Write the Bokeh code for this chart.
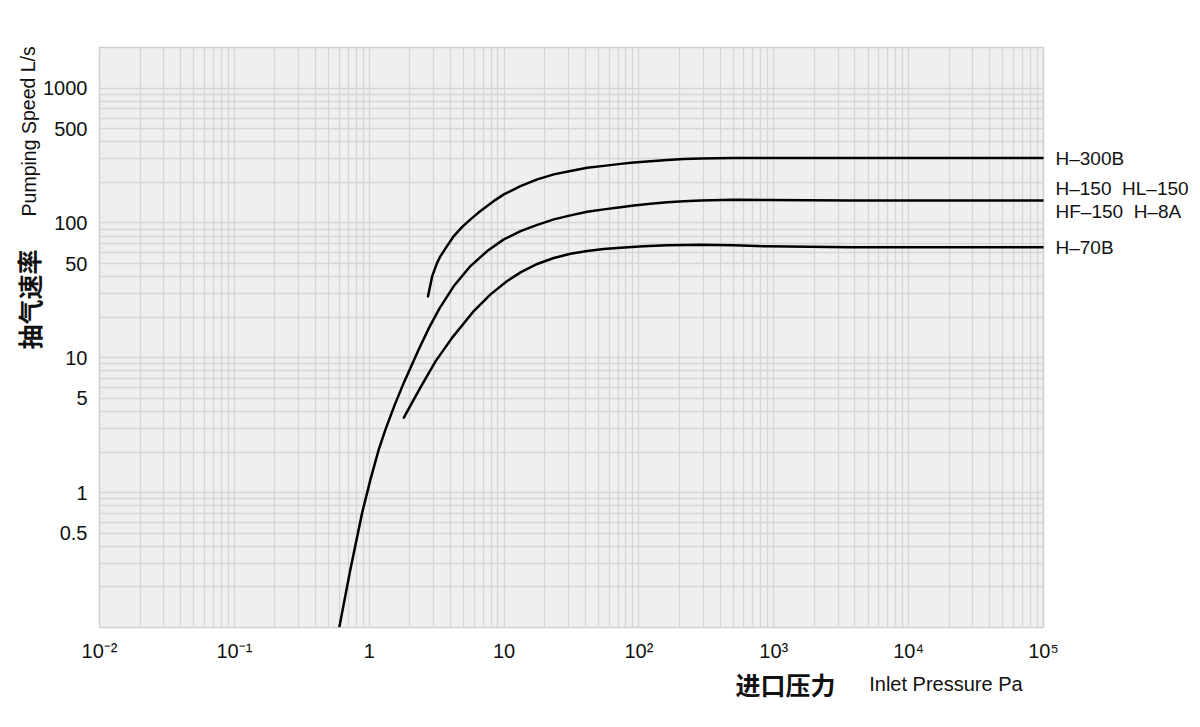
from bokeh.plotting import figure
from bokeh.models import FixedTicker, LogAxis
from bokeh.core.properties import value
from bokeh.embed import file_html
from bokeh.resources import INLINE

# ---- data ----
h300_pressure = [2.729, 2.932, 3.193, 3.379, 3.680, 4.240, 4.894, 5.638, 6.497, 7.499, 8.641, 9.956, 13.24,
                 17.61, 23.38, 31.09, 41.35, 54.92, 73.03, 91.6, 121.9, 162.1, 215.2, 286.2, 505.2, 1e5]
h300_speed = [28.55, 40.37, 50.76, 56.81, 64.8, 79.93, 93.5, 106.3, 119.8, 133.4, 148.3, 162.9, 187.7,
              210.5, 229.2, 242.5, 257.0, 265.0, 274.2, 280.4, 287.2, 293.1, 297.7, 300.7, 302.8, 302.8]

h150_pressure = [0.602, 0.7256, 0.887, 1.022, 1.178, 1.321, 1.540, 1.806, 2.332, 2.776, 3.321, 4.240, 5.638,
                 7.499, 9.956, 13.24, 17.61, 23.38, 31.09, 41.35, 54.92, 73.03, 91.6, 121.9, 162.1, 215.2,
                 286.2, 505.2, 894, 3707, 1e5]
h150_speed = [0.102, 0.270, 0.711, 1.255, 2.095, 2.947, 4.439, 6.542, 11.55, 16.67, 23.26, 34.04, 47.89,
              61.88, 75.53, 87.07, 96.78, 106.3, 113.8, 120.9, 126.1, 130.9, 134.5, 138.7, 142.1, 144.8,
              146.8, 148.6, 148.2, 147.0, 147.0]

h70_pressure = [1.806, 2.401, 3.102, 4.126, 5.964, 7.935, 10.55, 13.24, 17.61, 23.38, 31.09, 41.35, 54.92,
                73.03, 108.1, 162.1, 286.2, 505.2, 894, 3707, 1e5]
h70_speed = [3.598, 6.036, 9.410, 14.11, 22.22, 29.54, 37.14, 43.01, 49.63, 55.00, 59.09, 61.97, 64.13,
             65.57, 67.16, 68.31, 68.90, 68.31, 67.04, 65.90, 66.13]

curve_labels = ["H\u2013300B", "H\u2013150\u00a0\u00a0HL\u2013150\nHF\u2013150\u00a0\u00a0H\u20138A", "H\u201370B"]

x_ticks = [0.01, 0.1, 1, 10, 100, 1000, 10000, 100000]
x_tick_labels = ["10\u207b\u00b2", "10\u207b\u00b9", "1", "10", "10\u00b2", "10\u00b3", "10\u2074", "10\u2075"]
x_minor = [m * 10.0 ** k for k in range(-2, 5) for m in range(2, 10)]

y_ticks = [0.5, 1, 5, 10, 50, 100, 500, 1000]
y_tick_labels = ["0.5", "1", "5", "10", "50", "100", "500", "1000"]
y_minor = [m * 10.0 ** k for k in range(-1, 3) for m in range(2, 10) if m != 5]

y_title_en = "Pumping Speed L/s"
y_title_zh = "抽气速率"
x_title_zh = "进口压力"
x_title_en = "Inlet Pressure Pa"

FONT = "Liberation Sans, Arial, Helvetica, sans-serif"
CJK = "Noto Sans CJK SC"
GRID = "#d6d6d6"
INK = "#111111"

p = figure(width=1192, height=708, x_axis_type="log", y_axis_type="log",
           x_range=(0.01, 1e5), y_range=(0.1, 2000),
           output_backend="svg", toolbar_location=None,
           min_border_left=99, min_border_right=149, min_border_top=47, min_border_bottom=81)

p.border_fill_color = "white"
p.background_fill_color = "#efefef"
p.outline_line_color = "#d0d0d0"
p.outline_line_width = 1.5

# right axis carries the curve names at the curves' end values
right = LogAxis()
p.add_layout(right, "right")
curve_end = [h300_speed[-1], h150_speed[-1], h70_speed[-1]]

axes = [(p.xaxis[0], x_ticks, x_minor, x_tick_labels, "20px"),
        (p.yaxis[0], y_ticks, y_minor, y_tick_labels, "20px"),
        (right, curve_end, [], curve_labels, "19px")]
for ax, ticks, minor, labels, fs in axes:
    ax.ticker = FixedTicker(ticks=ticks, minor_ticks=minor)
    ax.major_label_overrides = {t: l for t, l in zip(ticks, labels)}
    ax.axis_line_color = None
    ax.major_tick_line_color = None
    ax.minor_tick_line_color = None
    ax.major_tick_out = 0
    ax.minor_tick_out = 0
    ax.major_label_standoff = 12
    ax.major_label_text_font = FONT
    ax.major_label_text_font_size = fs
    ax.major_label_text_color = INK
right.major_label_text_line_height = 1.1

for g in (p.xgrid[0], p.ygrid[0]):
    g.grid_line_color = GRID
    g.grid_line_width = 1.3
    g.minor_grid_line_color = GRID
    g.minor_grid_line_width = 1.3

for xs, ys in ((h300_pressure, h300_speed), (h150_pressure, h150_speed), (h70_pressure, h70_speed)):
    p.line(xs, ys, line_color="black", line_width=2.5, line_join="round", line_cap="round")

# axis titles drawn as unclipped text glyphs (overlay level)
p.text(x=[0.01], y=[478], text=[y_title_en], x_offset=-71, angle=1.5708,
       text_font=value(FONT), text_font_size="19.5px", text_color=INK,
       text_align="center", text_baseline="middle", level="overlay")
p.text(x=[0.01], y=[27.1], text=[y_title_zh], x_offset=-71, angle=1.5708,
       text_font=value(CJK), text_font_size="25px", text_font_style="bold", text_color=INK,
       text_align="center", text_baseline="middle", level="overlay")
p.text(x=[1222], y=[0.1], text=[x_title_zh], y_offset=56,
       text_font=value(CJK), text_font_size="25px", text_font_style="bold", text_color=INK,
       text_align="center", text_baseline="middle", level="overlay")
p.text(x=[18900], y=[0.1], text=[x_title_en], y_offset=56,
       text_font=value(FONT), text_font_size="20px", text_color=INK,
       text_align="center", text_baseline="middle", level="overlay")

open("out.html", "w").write(file_html(p, INLINE))
